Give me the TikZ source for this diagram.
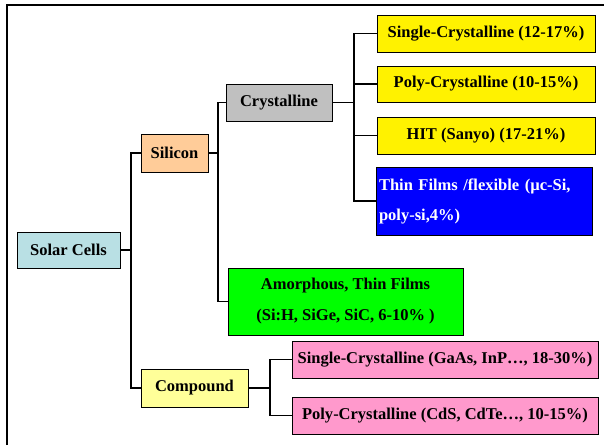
\documentclass[tikz,border=0pt]{standalone}
\usepackage{fontspec}
\setmainfont{Liberation Serif}
\begin{document}
\begin{tikzpicture}[x=1pt,y=-1pt,
  box/.style={draw=black, line width=0.9pt, inner sep=0pt, font=\bfseries\fontsize{16.5}{31}\selectfont, align=center},
  conn/.style={draw=black, line width=1.3pt}]
\useasboundingbox (0,0) rectangle (604,445);
\draw[line width=2.6pt] (7,445) -- (7,5) -- (604,5);
% nodes
\node[box, fill={rgb,255:red,185;green,224;blue,228}, minimum width=103pt, minimum height=36pt] (solar) at (68.5,250) {Solar Cells};
\node[box, fill={rgb,255:red,255;green,204;blue,153}, minimum width=67pt, minimum height=38pt] (si) at (174.5,153) {Silicon};
\node[box, fill={rgb,255:red,192;green,192;blue,192}, minimum width=106pt, minimum height=37pt] (cry) at (279,102.5) {Crystalline};
\node[box, fill=yellow, minimum width=218pt, minimum height=37pt] (sc) at (486,33.5) {Single-Crystalline (12-17\%)};
\node[box, fill=yellow, minimum width=218pt, minimum height=36pt] (pc) at (486,84) {Poly-Crystalline (10-15\%)};
\node[box, fill=yellow, minimum width=218pt, minimum height=37pt] (hit) at (486,135.5) {HIT (Sanyo) (17-21\%)};
\node[box, fill=blue, text=white, minimum width=216pt, minimum height=68pt, text width=210pt, align=left, font=\bfseries\fontsize{16.5}{30}\selectfont] (tf) at (484,201) {Thin Films /flexible (µc-Si,\\poly-si,4\%)};
\node[box, fill={rgb,255:red,0;green,255;blue,0}, minimum width=235pt, minimum height=67pt] (am) at (345.5,301.5) {Amorphous, Thin Films\\(Si:H, SiGe, SiC, 6-10\% )};
\node[box, fill={rgb,255:red,255;green,255;blue,153}, minimum width=107pt, minimum height=38pt] (comp) at (194.5,388) {Compound};
\node[box, fill={rgb,255:red,255;green,153;blue,204}, minimum width=306pt, minimum height=37pt] (gaas) at (445,359.5) {Single-Crystalline (GaAs, InP\ldots, 18-30\%)};
\node[box, fill={rgb,255:red,255;green,153;blue,204}, minimum width=306pt, minimum height=37pt] (cds) at (445,415.5) {Poly-Crystalline (CdS, CdTe\ldots, 10-15\%)};
% connectors
\coordinate (j1) at (131,250);
\draw[conn] (solar.east) -- (j1);
\draw[conn] (si.west) -| (j1);
\draw[conn] (comp.west) -| (j1);
\coordinate (j2) at (218,153);
\draw[conn] (si.east) -- (j2);
\draw[conn] (cry.west) -| (j2);
\draw[conn] (am.west) -| (j2);
\coordinate (j3) at (354,102.5);
\draw[conn] (cry.east) -- (j3);
\draw[conn] (sc.west) -| (j3);
\draw[conn] (pc.west) -| (j3);
\draw[conn] (hit.west) -| (j3);
\draw[conn] (tf.west) -| (j3);
\coordinate (j4) at (270,388);
\draw[conn] (comp.east) -- (j4);
\draw[conn] (gaas.west) -| (j4);
\draw[conn] (cds.west) -| (j4);
\end{tikzpicture}
\end{document}
